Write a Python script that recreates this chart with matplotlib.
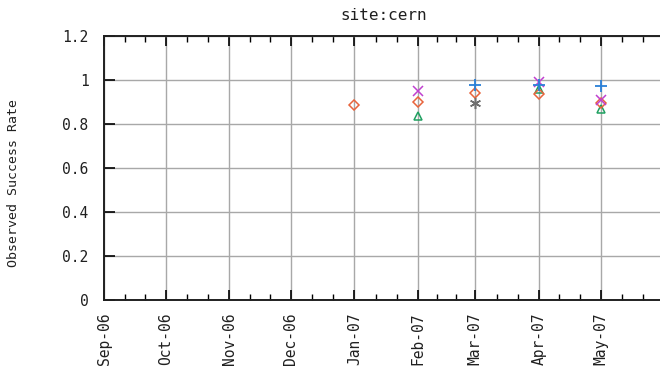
import matplotlib
matplotlib.use("Agg")
import matplotlib.pyplot as plt
import matplotlib.dates as mdates
import pandas as pd

# data
title = "site:cern"
ylabel = "Observed Success Rate"

diamond_dates = ["2007-01-01", "2007-02-01", "2007-03-01", "2007-04-01", "2007-05-01"]
diamond_vals = [0.885, 0.902, 0.942, 0.935, 0.895]

cross_dates = ["2007-02-01", "2007-04-01", "2007-05-01"]
cross_vals = [0.948, 0.99, 0.91]

tri_dates = ["2007-02-01", "2007-04-01", "2007-05-01"]
tri_vals = [0.836, 0.958, 0.868]

plus_dates = ["2007-03-01", "2007-04-01", "2007-05-01"]
plus_vals = [0.978, 0.975, 0.972]

star_dates = ["2007-03-01"]
star_vals = [0.895]

month_ticks = pd.date_range("2006-09-01", "2007-05-01", freq="MS")
y_ticks = [0, 0.2, 0.4, 0.6, 0.8, 1, 1.2]
y_labels = ["0", "0.2", "0.4", "0.6", "0.8", "1", "1.2"]

mono = "DejaVu Sans Mono"

fig = plt.figure(figsize=(6.6, 3.73), dpi=100)
ax = fig.add_axes([0.1576, 0.1957, 0.8424, 0.7078])

ax.plot(pd.to_datetime(tri_dates), tri_vals, linestyle="none", marker="^", ms=6,
        mfc="none", mec="#1fa060", mew=1.1)
ax.plot(pd.to_datetime(diamond_dates), diamond_vals, linestyle="none", marker="D", ms=5,
        mfc="none", mec="#e8643c", mew=1.1)
ax.plot(pd.to_datetime(star_dates), star_vals, linestyle="none", marker=(6, 2, 0), ms=8,
        mec="#707070", mew=1.1)
ax.plot(pd.to_datetime(cross_dates), cross_vals, linestyle="none", marker="x", ms=7,
        mec="#c040d0", mew=1.1)
ax.plot(pd.to_datetime(plus_dates), plus_vals, linestyle="none", marker="+", ms=8,
        mec="#2a80d8", mew=1.3)

ax.set_xlim(pd.Timestamp("2006-09-01"), pd.Timestamp("2007-05-30"))
ax.set_ylim(0, 1.2)

ax.set_xticks(month_ticks)
ax.xaxis.set_major_formatter(mdates.DateFormatter("%b-%y"))
minor = []
for a, b in zip(month_ticks, list(month_ticks[1:]) + [pd.Timestamp("2007-06-01")]):
    d = (b - a) / 3
    minor += [a + d, a + 2 * d]
ax.set_xticks(minor, minor=True)
ax.set_yticks(y_ticks)
ax.set_yticklabels(y_labels)

ax.grid(True, which="major", color="#a8a8a8", linewidth=1.0)
ax.set_axisbelow(True)

for side in ["left", "bottom", "top"]:
    ax.spines[side].set_linewidth(1.4)
    ax.spines[side].set_color("#202020")
ax.spines["right"].set_visible(False)

ax.tick_params(axis="x", which="major", direction="in", length=7, width=1.2,
               top=True, bottom=True, labelrotation=90, labelsize=10.5, pad=9)
ax.tick_params(axis="x", which="minor", direction="in", length=4, width=1.0,
               top=True, bottom=True)
ax.tick_params(axis="y", which="major", direction="in", length=8, width=1.2,
               left=True, right=False, labelsize=10.5, pad=11)

for lab in ax.get_xticklabels() + ax.get_yticklabels():
    lab.set_family(mono)
    lab.set_color("#202020")

fig.text(0.582, 0.958, title, family=mono, fontsize=11.5, ha="center", va="center",
         color="#202020")
fig.text(0.02, 0.51, ylabel, family=mono, fontsize=9.5, rotation=90, ha="center",
         va="center", color="#202020")

fig.savefig("out.png", dpi=100)
